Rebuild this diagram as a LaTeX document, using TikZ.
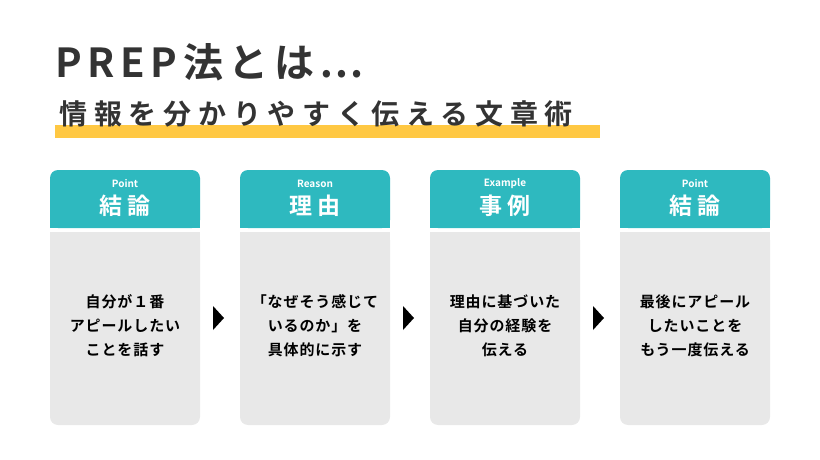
\documentclass[tikz,border=0pt]{standalone}
\usepackage{fontspec}
\newfontfamily\cjk{Noto Sans CJK JP}[BoldFont={Noto Sans CJK JP Bold}]
\usetikzlibrary{positioning}
\definecolor{cardteal}{HTML}{2EB9BF}
\definecolor{cardgray}{HTML}{E8E8E8}
\definecolor{ink}{HTML}{333333}
\definecolor{markyellow}{HTML}{FFC843}

\begin{document}
\begin{tikzpicture}[x=1pt,y=-1pt,
	head/.style={fill=cardteal, rounded corners=8pt},
	body/.style={fill=cardgray, rounded corners=8pt},
	tag/.style={font=\cjk\bfseries\fontsize{10}{11}\selectfont, text=white},
	word/.style={font=\cjk\bfseries\fontsize{23}{24}\selectfont, text=white},
	txt/.style={font=\cjk\bfseries\fontsize{15}{24}\selectfont\addfontfeature{LetterSpace=6}, text=black, align=center},
	tri/.style={fill=black}
	]
	\useasboundingbox (0,0) rectangle (820,460);
	
	% Title
	\fill[markyellow] (55,125) rectangle (600,138);
	\node[anchor=west, font=\cjk\bfseries\fontsize{40}{42}\selectfont\addfontfeature{LetterSpace=14}, text=ink] (title) at (52,62) {PREP法とは…};
	\node[anchor=west, font=\cjk\bfseries\fontsize{28}{30}\selectfont\addfontfeature{LetterSpace=24}, text=ink] (sub) at (56,114) {情報を分かりやすく伝える文章術};
	
	% Cards
	\foreach \x/\en/\jp/\body [count=\i] in {
		50/Point/結 論/{自分が１番\\アピールしたい\\ことを話す},
		240/Reason/理 由/{「なぜそう感じて\\いるのか」を\\具体的に示す},
		430/Example/事 例/{理由に基づいた\\自分の経験を\\伝える},
		620/Point/結 論/{最後にアピール\\したいことを\\もう一度伝える}} {
		\fill[body] (\x,232) rectangle (\x+150,425);
		\fill[cardgray] (\x,232) rectangle (\x+150,250);
		\fill[head] (\x,170) rectangle (\x+150,228);
		\fill[cardteal] (\x,210) rectangle (\x+150,228);
		\node[tag] (en\i) at (\x+75,184) {\en};
		\node[word] (jp\i) at (\x+75,206) {\jp};
		\node[txt] (txt\i) at (\x+75,326) {\body};
	}
	
	% Arrows between cards
	\foreach \x in {213,403,593}
		\fill[tri] (\x,306) -- (\x+11,318) -- (\x,330) -- cycle;
\end{tikzpicture}
\end{document}
